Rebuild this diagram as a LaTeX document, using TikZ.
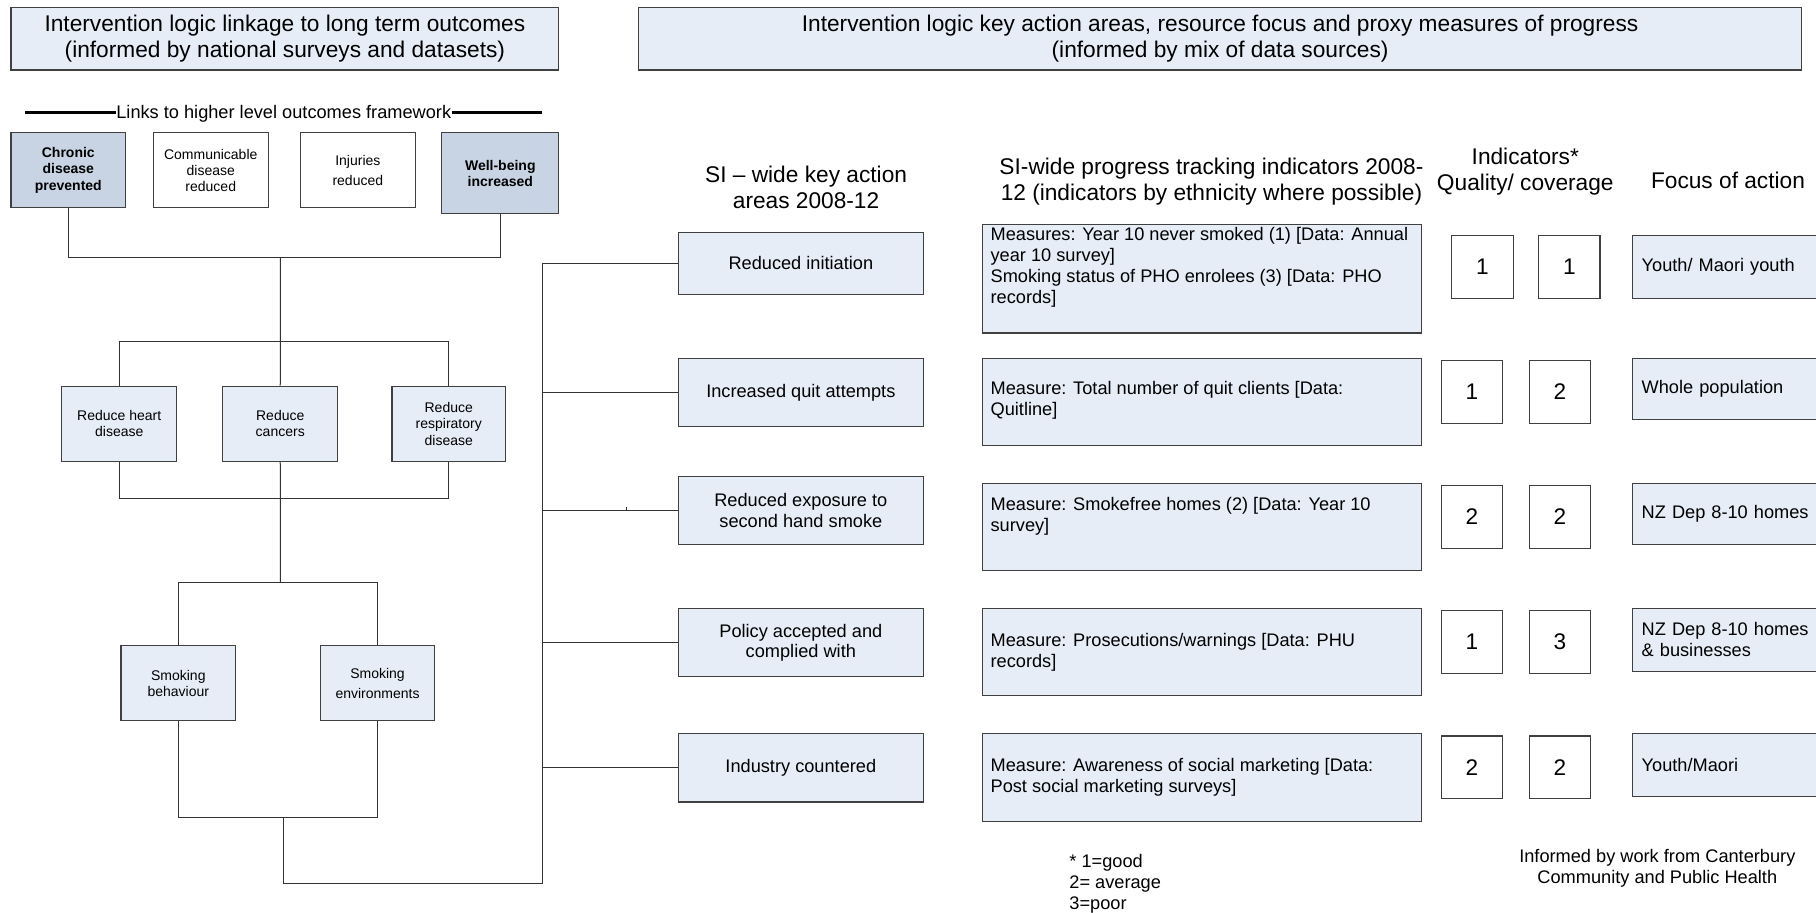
\documentclass[tikz,border=0pt]{standalone}
\usepackage{fontspec}
\setmainfont{Liberation Sans}

\definecolor{paleblue}{HTML}{E6EDF7}
\definecolor{steelfill}{HTML}{C8D4E3}
\definecolor{edgegray}{HTML}{404040}

\newcommand\titlesize{\fontsize{11.35}{13.3}\selectfont}
\newcommand\headsize{\fontsize{11.35}{12.75}\selectfont}
\newcommand\bodysize{\fontsize{9.1}{10.45}\selectfont}
\newcommand\minisize{\fontsize{7}{8.1}\selectfont}
\newcommand\digitsize{\fontsize{11.3}{13}\selectfont}

% one drawing unit in pt
\def\u{0.5791pt}
% \boxat{style}{x1}{y1}{x2}{y2}{name} {text};
\newcommand\boxat[6]{\node[#1, anchor=north west,
  minimum width={(#4-#2)*\u}, minimum height={(#5-#3)*\u}] (#6) at (#2,#3)}

\begin{document}
\begin{tikzpicture}[x=0.5791pt, y=-0.5791pt,
  basebox/.style={draw=edgegray, line width=0.55pt, inner sep=0pt, align=center},
  titlebox/.style={basebox, fill=paleblue, font=\titlesize},
  outbox/.style={basebox, fill=steelfill, font=\minisize\bfseries},
  plainbox/.style={basebox, fill=white, font=\minisize},
  midbox/.style={basebox, fill=paleblue, font=\minisize},
  actbox/.style={basebox, fill=paleblue, font=\bodysize},
  measbox/.style={basebox, fill=paleblue},
  sqbox/.style={basebox, fill=white, font=\digitsize},
  focbox/.style={basebox, fill=paleblue, font=\bodysize, align=left,
    text width={154*\u}, inner xsep={8*\u}},
  head/.style={inner sep=0pt, align=center, font=\headsize},
  mtext/.style={inner sep=0pt, align=left, font=\bodysize, anchor=west},
  conn/.style={draw=black!80, line width=0.5pt},
]
\useasboundingbox (0,0) rectangle (1568,788);
\clip (0,0) rectangle (1568,788);
\fill[white] (0,0) rectangle (1568,788);

% ---- title boxes
\boxat{titlebox}{9}{6}{482}{60}{ttl} {Intervention logic linkage to long term outcomes\\(informed by national surveys and datasets)};
\boxat{titlebox}{551}{6}{1555}{60}{ttr} {Intervention logic key action areas, resource focus and proxy measures of progress\\(informed by mix of data sources)};

% ---- higher level outcomes
\node[inner sep=0pt, font=\bodysize] (links) at (245,98) {Links to higher level outcomes framework};
\coordinate (linksL) at (22,97);
\coordinate (linksR) at (468,97);
\draw[black, line width=1.2pt] (linksL) -- (linksL -| links.west);
\draw[black, line width=1.2pt] (linksR -| links.east) -- (linksR);

\boxat{outbox}{9}{114}{108}{179}{chronic} {Chronic\\disease\\prevented};
\boxat{plainbox}{132}{114}{231}{179}{comm} {Communicable\\disease\\reduced};
\boxat{plainbox}{259}{114}{358}{179}{inj} {Injuries\\[2pt]reduced};
\boxat{outbox}{381}{114}{482}{184}{well} {Well-being\\increased};

% ---- disease boxes
\boxat{midbox}{53}{333}{152}{398}{heart} {Reduce heart\\disease};
\boxat{midbox}{192}{333}{291}{398}{cancers} {Reduce\\cancers};
\boxat{midbox}{338}{333}{436}{398}{resp} {Reduce\\respiratory\\disease};

% ---- smoking boxes
\boxat{midbox}{104}{557}{203}{622}{behav} {Smoking\\behaviour};
\boxat{midbox}{276}{557}{375}{622}{env} {Smoking\\[2pt]environments};

% ---- left tree connectors
\coordinate (j1) at (242,222);
\coordinate (j2) at (242,295);
\coordinate (j3) at (242,430);
\coordinate (j4) at (242,503);
\coordinate (j5) at (245,706);
\coordinate (j6) at (468,763);
\draw[conn] (chronic.south) |- (j1) -| (well.south);
\draw[conn] (j1) -- (cancers.north);
\draw[conn] (heart.north) |- (j2) -| (resp.north);
\draw[conn] (heart.south) |- (j3) -| (resp.south);
\draw[conn] (cancers.south) -- (j4);
\draw[conn] (behav.north) |- (j4) -| (env.north);
\draw[conn] (behav.south) |- (j5) -| (env.south);

% ---- column headers
\node[head] (h1) at (696,162) {SI -- wide key action\\areas 2008-12};
\node[head] (h2) at (1046,157) {SI-wide progress tracking indicators 2008-\\12 (indicators by ethnicity where possible)};
\node[head] (h3) at (1317,148) {Indicators*\\Quality/ coverage};
\node[head] (h4) at (1492,156) {Focus of action};

% ---- key action areas
\boxat{actbox}{585}{200}{797}{254}{act1} {Reduced initiation};
\boxat{actbox}{585}{309}{797}{368}{act2} {Increased quit attempts};
\boxat{actbox}{585}{411}{797}{470}{act3} {Reduced exposure to\\second hand smoke};
\boxat{actbox}{585}{525}{797}{584}{act4} {Policy accepted and\\complied with};
\boxat{actbox}{585}{633}{797}{692}{act5} {Industry countered};

\draw[conn] (j5) |- (j6) |- (act1.west);
\draw[conn] (j6 |- act2.west) -- (act2.west);
\draw[conn] (j6 |- act3.west) -- (act3.west);
\draw[conn] (j6 |- act4.west) -- (act4.west);
\draw[conn] (j6 |- act5.west) -- (act5.west);
% small joint mark on the third branch
\coordinate (tick) at (541,437.5);
\draw[conn] (tick) -- (tick |- act3.west);

% ---- measures
\boxat{measbox}{848}{193}{1227}{287}{m1} {};
\boxat{measbox}{848}{309}{1227}{384}{m2} {};
\boxat{measbox}{848}{417}{1227}{492}{m3} {};
\boxat{measbox}{848}{525}{1227}{600}{m4} {};
\boxat{measbox}{848}{633}{1227}{709}{m5} {};
\node[mtext] (m1t) at (855,231) {Measures: Year 10 never smoked (1) [Data: Annual\\year 10 survey]\\Smoking status of PHO enrolees (3) [Data: PHO\\records]};
\node[mtext] (m2t) at (855,346) {Measure: Total number of quit clients [Data:\\Quitline]};
\node[mtext] (m3t) at (855,446) {Measure: Smokefree homes (2) [Data: Year 10\\survey]};
\node[mtext] (m4t) at (855,563) {Measure: Prosecutions/warnings [Data: PHU\\records]};
\node[mtext] (m5t) at (855,671) {Measure: Awareness of social marketing [Data:\\Post social marketing surveys]};

% ---- quality / coverage ratings
\boxat{sqbox}{1253}{203}{1306}{257}{q1} {1};
\boxat{sqbox}{1328}{203}{1381}{257}{c1} {1};
\boxat{sqbox}{1244}{311}{1297}{365}{q2} {1};
\boxat{sqbox}{1320}{311}{1373}{365}{c2} {2};
\boxat{sqbox}{1244}{419}{1297}{473}{q3} {2};
\boxat{sqbox}{1320}{419}{1373}{473}{c3} {2};
\boxat{sqbox}{1244}{527}{1297}{581}{q4} {1};
\boxat{sqbox}{1320}{527}{1373}{581}{c4} {3};
\boxat{sqbox}{1244}{635}{1297}{689}{q5} {2};
\boxat{sqbox}{1320}{635}{1373}{689}{c5} {2};

% ---- focus of action
\boxat{focbox}{1409}{203}{1579}{257}{f1} {Youth/ Maori youth};
\boxat{focbox}{1409}{309}{1579}{362}{f2} {Whole population};
\boxat{focbox}{1409}{417}{1579}{470}{f3} {NZ Dep 8-10 homes};
\boxat{focbox}{1409}{525}{1579}{579}{f4} {NZ Dep 8-10 homes\\\& businesses};
\boxat{focbox}{1409}{633}{1579}{687}{f5} {Youth/Maori};

% ---- notes
\node[inner sep=0pt, align=left, font=\bodysize, anchor=west] (key) at (923,763) {* 1=good\\2= average\\3=poor};
\node[inner sep=0pt, align=center, font=\bodysize] (credit) at (1431,750) {Informed by work from Canterbury\\Community and Public Health};
\end{tikzpicture}
\end{document}
